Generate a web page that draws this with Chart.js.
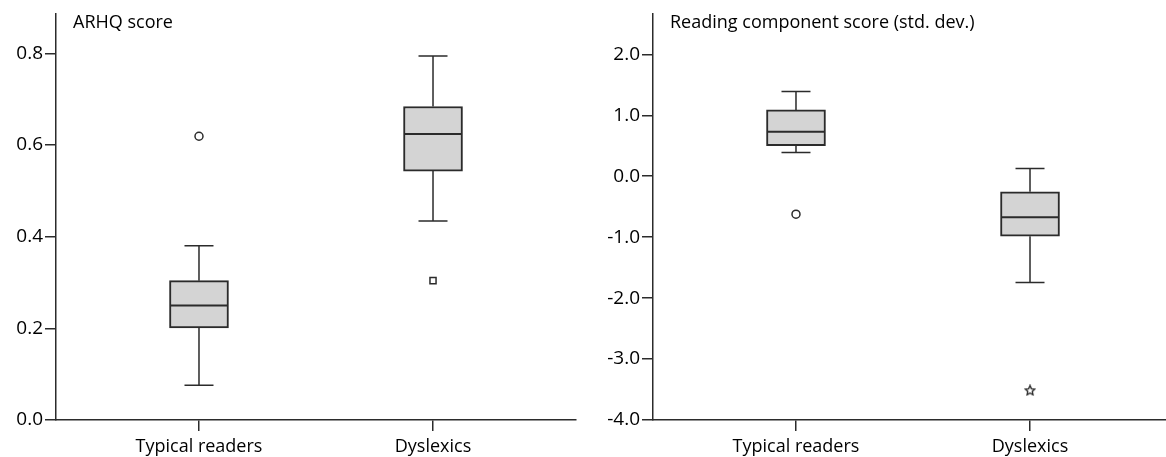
<!DOCTYPE html>
<html>
<head>
<meta charset="utf-8">
<script src="https://cdn.jsdelivr.net/npm/chart.js@4/dist/chart.umd.min.js"></script>
<style>
  html, body { margin: 0; padding: 0; background: #fff; overflow: hidden; }
  body { width: 1166px; height: 457px; position: relative; }
  .panel { position: absolute; top: 0; width: 590px; height: 457px; }
  #left { left: 0; }
  #right { left: 597px; }
</style>
</head>
<body>
<div class="panel" id="left"><canvas id="arhqChart"></canvas></div>
<div class="panel" id="right"><canvas id="readingChart"></canvas></div>
<script>
const categories = ['Typical readers', 'Dyslexics'];

// ARHQ score
const arhqMin = [0.076, 0.434];
const arhqQ1 = [0.201, 0.543];
const arhqMedian = [0.250, 0.624];
const arhqQ3 = [0.304, 0.684];
const arhqMax = [0.380, 0.794];
const arhqOutlierGroup = [1, 2];
const arhqOutlierValue = [0.619, 0.304];
const arhqOutlierKind = ['circle', 'rect'];
const arhqTicks = [0.0, 0.2, 0.4, 0.6, 0.8];

// Reading component score
const readMin = [0.389, -1.743];
const readQ1 = [0.503, -0.984];
const readMedian = [0.728, -0.672];
const readQ3 = [1.088, -0.256];
const readMax = [1.389, 0.126];
const readOutlierGroup = [1, 2];
const readOutlierValue = [-0.623, -3.513];
const readOutlierKind = ['circle', 'star'];
const readTicks = [-4, -3, -2, -1, 0, 1, 2];

const INK = '#2b2b2b';
const FONT = { family: "'Open Sans', sans-serif", size: 19 };

// small outlined five-pointed star used for extreme values
function makeStar() {
    const c = document.createElement('canvas');
    c.width = 12; c.height = 12;
    const g = c.getContext('2d');
    g.beginPath();
    for (let i = 0; i < 10; i++) {
        const r = i % 2 === 0 ? 5 : 2.4;
        const a = -Math.PI / 2 + i * Math.PI / 5;
        const px = 6 + r * Math.cos(a), py = 6.3 + r * Math.sin(a);
        i === 0 ? g.moveTo(px, py) : g.lineTo(px, py);
    }
    g.closePath();
    g.fillStyle = '#fff';
    g.fill();
    g.lineWidth = 1.4;
    g.strokeStyle = INK;
    g.stroke();
    return c;
}
const starImg = makeStar();

const boxPlugin = {
    id: 'boxWhiskers',
    beforeDatasetsDraw(chart, args, opts) {
        const { ctx } = chart;
        const x = chart.scales.x, y = chart.scales.y;
        ctx.save();
        ctx.strokeStyle = INK;
        ctx.lineWidth = 1.5;
        opts.min.forEach((lo, i) => {
            const cx = x.getPixelForValue(i + 1);
            const half = 14.5;
            ctx.beginPath();
            ctx.moveTo(cx, y.getPixelForValue(opts.q3[i]));
            ctx.lineTo(cx, y.getPixelForValue(opts.max[i]));
            ctx.moveTo(cx, y.getPixelForValue(opts.q1[i]));
            ctx.lineTo(cx, y.getPixelForValue(lo));
            ctx.moveTo(cx - half, y.getPixelForValue(opts.max[i]));
            ctx.lineTo(cx + half, y.getPixelForValue(opts.max[i]));
            ctx.moveTo(cx - half, y.getPixelForValue(lo));
            ctx.lineTo(cx + half, y.getPixelForValue(lo));
            ctx.stroke();
        });
        ctx.restore();
    },
    afterDatasetsDraw(chart, args, opts) {
        const { ctx } = chart;
        const x = chart.scales.x, y = chart.scales.y;
        ctx.save();
        ctx.strokeStyle = INK;
        ctx.lineWidth = 2;
        opts.median.forEach((m, i) => {
            const cx = x.getPixelForValue(i + 1);
            const py = y.getPixelForValue(m);
            ctx.beginPath();
            ctx.moveTo(cx - 29, py);
            ctx.lineTo(cx + 29, py);
            ctx.stroke();
        });
        // panel title inside the plot, top-left
        ctx.fillStyle = '#000';
        ctx.font = "18px 'Open Sans', sans-serif";
        ctx.textBaseline = 'top';
        ctx.fillText(opts.title, chart.chartArea.left + 17, 14);
        ctx.restore();
    }
};

function boxChart(id, s) {
    const boxes = categories.map((c, i) => ({ x: i + 1, y: [s.q1[i], s.q3[i]] }));
    const outliers = s.outGroup.map((g, i) => ({ x: g, y: s.outValue[i] }));
    const styles = s.outKind.map(k => k === 'star' ? starImg : k);
    const radii = s.outKind.map(k => k === 'rect' ? 4.3 : 4);

    return new Chart(document.getElementById(id), {
        type: 'bar',
        data: {
            datasets: [{
                data: boxes,
                backgroundColor: '#d4d4d4',
                borderColor: INK,
                borderWidth: 2,
                borderSkipped: false,
                barThickness: 59
            }, {
                type: 'scatter',
                data: outliers,
                pointStyle: styles,
                pointRadius: radii,
                pointBackgroundColor: '#fff',
                pointBorderColor: INK,
                pointBorderWidth: 1.5
            }]
        },
        options: {
            responsive: true,
            maintainAspectRatio: false,
            animation: false,
            layout: { padding: { top: 12, right: 14, left: 0, bottom: 0 } },
            plugins: {
                legend: { display: false },
                tooltip: { enabled: false },
                boxWhiskers: s
            },
            scales: {
                x: {
                    type: 'linear',
                    offset: false,
                    min: 0.389,
                    max: 2.611,
                    afterBuildTicks: sc => { sc.ticks = categories.map((c, i) => ({ value: i + 1 })); },
                    afterFit: sc => { sc.height = 37; },
                    grid: { offset: false, drawOnChartArea: false, drawTicks: true, tickLength: 11, color: INK, lineWidth: 1.5 },
                    border: { display: true, color: INK, width: 1.5 },
                    ticks: {
                        autoSkip: false,
                        maxRotation: 0,
                        padding: 5,
                        color: '#000',
                        font: { family: FONT.family, size: 18 },
                        callback: v => categories[Math.round(v) - 1]
                    }
                },
                y: {
                    min: s.yMin,
                    max: s.yMax,
                    afterBuildTicks: sc => { sc.ticks = s.ticks.map(v => ({ value: v })); },
                    afterFit: sc => { sc.width = 56; },
                    grid: { drawOnChartArea: false, drawTicks: true, tickLength: 11, color: INK, lineWidth: 1.5 },
                    border: { display: true, color: INK, width: 1.5 },
                    ticks: {
                        padding: 2,
                        color: '#000',
                        font: FONT,
                        callback: v => v.toFixed(1)
                    }
                }
            }
        },
        plugins: [boxPlugin]
    });
}

document.addEventListener('DOMContentLoaded', () => {
    boxChart('arhqChart', {
        title: 'ARHQ score',
        min: arhqMin, q1: arhqQ1, median: arhqMedian, q3: arhqQ3, max: arhqMax,
        outGroup: arhqOutlierGroup, outValue: arhqOutlierValue, outKind: arhqOutlierKind,
        ticks: arhqTicks, yMin: 0, yMax: 0.887
    });
    boxChart('readingChart', {
        title: 'Reading component score (std. dev.)',
        min: readMin, q1: readQ1, median: readMedian, q3: readQ3, max: readMax,
        outGroup: readOutlierGroup, outValue: readOutlierValue, outKind: readOutlierKind,
        ticks: readTicks, yMin: -4, yMax: 2.672
    });
});
</script>
</body>
</html>
